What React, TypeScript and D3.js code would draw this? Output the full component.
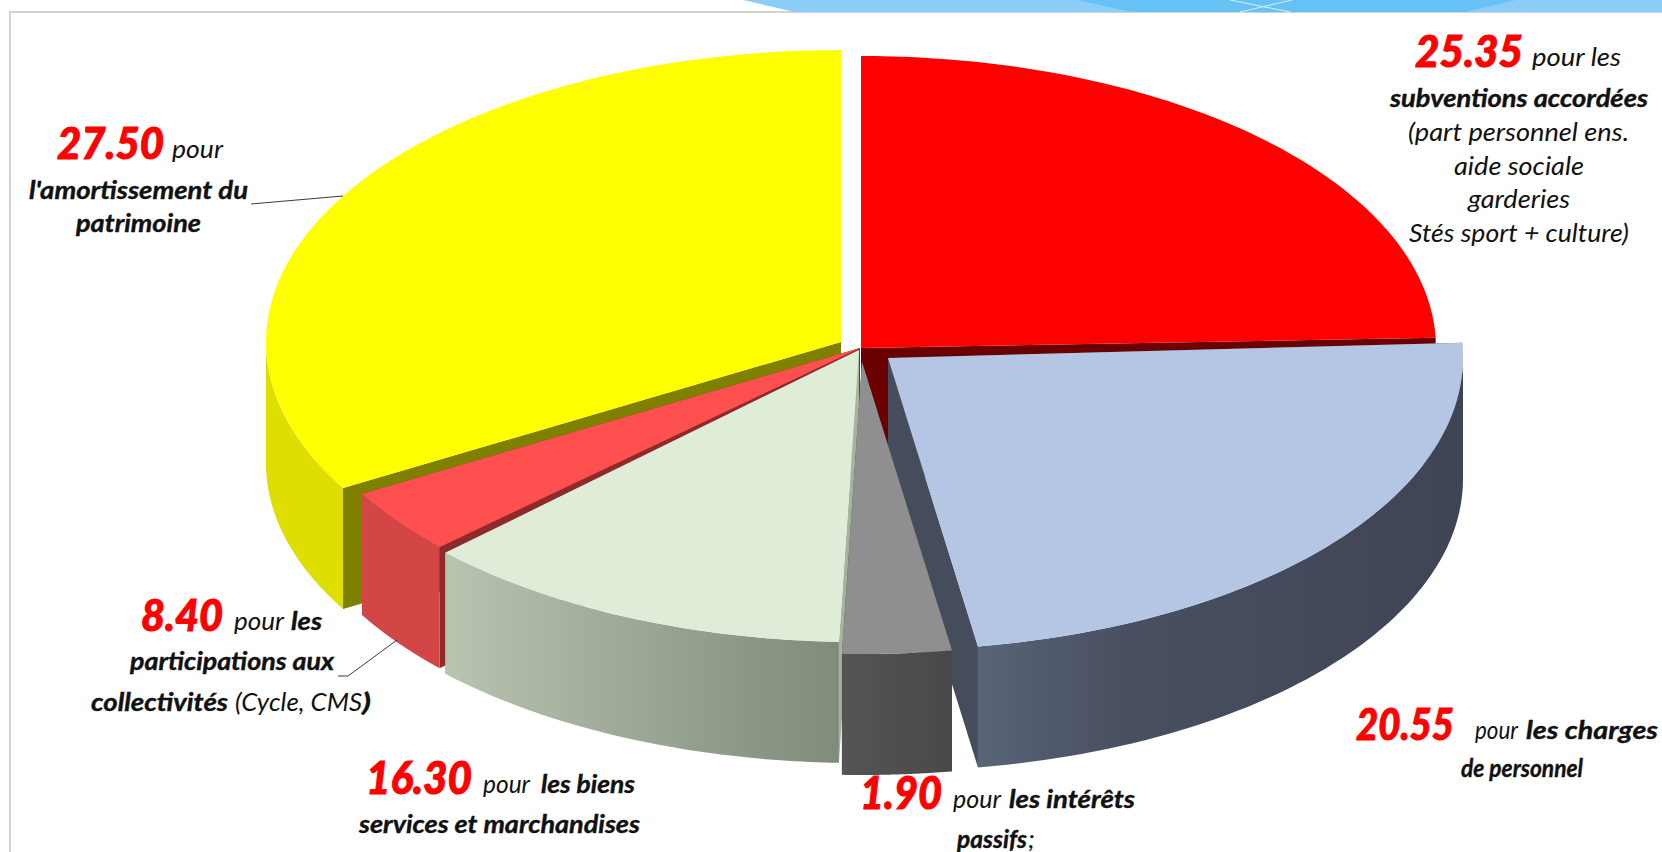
import React from "react";
import * as d3 from "d3";

// Amounts printed on the chart
const categories = [
  "subventions accordées",
  "charges de personnel",
  "intérêts passifs",
  "biens services et marchandises",
  "participations aux collectivités",
  "amortissement du patrimoine",
];
const amounts = [25.35, 20.55, 1.9, 16.3, 8.4, 27.5];
// Slice extents as they appear in the picture (degrees of the drawn disk)
const drawnShares = [88, 83, 11, 45, 13, 120];
// Small misfits between neighbouring slices in the picture (degrees)
const startNudge = [0, -1, 0, 0, 0, 0];
const endNudge = [0, 0, 0, -1, 0, 0];

const topColors = ["#ff0000", "#b4c6e4", "#8f8f8f", "#dfecd8", "#ff5050", "#ffff00"];
const radialWallColors = ["#6b0000", "#454c5c", "#505050", "#a5b39f", "#8f2a2a", "#7f7f00"];
const outerWallFills = ["#a00000", "url(#gBlue)", "url(#gGray)", "url(#gGreen)", "#d24646", "#dede00"];
const apexX = [861, 888, 862, 859, 860, 841];
const apexY = [348, 358, 362, 350, 348, 342];
const drawOrder = [0, 5, 1, 4, 3, 2];

const RX = 575;
const RY = 292;
const DEPTH = 121;

type Run = [string, number, number, number, number, "b" | "n" | "r"];
// text, left x, baseline y, width, font size, kind (r = red figure, b = bold italic, n = italic)
const runs: Run[] = [
  ["25.35", 1415, 67, 108, 44, "r"],
  ["pour les", 1532, 66, 89, 25, "n"],
  ["subventions accordées", 1390, 107, 258, 25, "b"],
  ["(part personnel ens.", 1408, 141, 221, 25, "n"],
  ["aide sociale", 1454, 175, 130, 25, "n"],
  ["garderies", 1468, 208, 102, 25, "n"],
  ["Stés sport + culture)", 1409, 242, 220, 25, "n"],
  ["27.50", 57, 159, 107, 44, "r"],
  ["pour", 172, 158, 51, 25, "n"],
  ["l'amortissement du", 29, 199, 219, 25, "b"],
  ["patrimoine", 76, 232, 125, 25, "b"],
  ["8.40", 141, 631, 82, 44, "r"],
  ["pour", 234, 630, 50, 25, "n"],
  ["les", 291, 630, 31, 25, "b"],
  ["participations aux", 130, 670, 204, 25, "b"],
  ["collectivités", 91, 711, 137, 25, "b"],
  ["(Cycle, CMS", 235, 711, 127, 25, "n"],
  [")", 362, 711, 9, 25, "b"],
  ["16.30", 366, 794, 106, 46, "r"],
  ["pour", 483, 793, 47, 25, "n"],
  ["les biens", 541, 793, 94, 25, "b"],
  ["services et marchandises", 359, 833, 281, 25, "b"],
  ["1.90", 860, 809, 82, 46, "r"],
  ["pour", 953, 808, 48, 25, "n"],
  ["les intérêts", 1009, 808, 126, 25, "b"],
  ["passifs", 957, 848, 70, 25, "b"],
  [";", 1028, 848, 7, 25, "n"],
  ["20.55", 1356, 740, 98, 44, "r"],
  ["pour", 1475, 739, 43, 25, "n"],
  ["les charges", 1526, 739, 132, 25, "b"],
  ["de personnel", 1461, 777, 122, 25, "b"],
];

const leaders: [number, number][][] = [
  [[343, 196], [251, 204]],
  [[397, 640], [348, 676], [338, 676]],
];

const line = d3.line<[number, number]>();
const rad = (deg: number) => (deg * Math.PI) / 180;

export default function App() {
  const arcs = d3
    .pie<number>()
    .sort(null)
    .value((d) => d)
    .startAngle(0)
    .endAngle(2 * Math.PI)(drawnShares);

  const pt = (i: number, a: number, dz = 0): [number, number] => [
    apexX[i] + RX * Math.sin(a),
    apexY[i] - RY * Math.cos(a) + dz,
  ];
  const sample = (i: number, a0: number, a1: number, dz = 0) =>
    d3.range(0, 61).map((k) => pt(i, a0 + ((a1 - a0) * k) / 60, dz));

  return (
    <svg
      width={1662}
      height={852}
      viewBox="0 0 1662 852"
      style={{ position: "absolute", left: 0, top: 0, background: "#fff", display: "block" }}
      fontFamily="Lato, Carlito, sans-serif"
    >
      <defs>
        <linearGradient id="gBlue" gradientUnits="userSpaceOnUse" x1={975} x2={1463} y1={0} y2={0}>
          <stop offset="0" stopColor="#5a6478" />
          <stop offset="0.3" stopColor="#485061" />
          <stop offset="1" stopColor="#3e4454" />
        </linearGradient>
        <linearGradient id="gGreen" gradientUnits="userSpaceOnUse" x1={447} x2={838} y1={0} y2={0}>
          <stop offset="0" stopColor="#b8c4b0" />
          <stop offset="1" stopColor="#7f8b7b" />
        </linearGradient>
        <linearGradient id="gGray" gradientUnits="userSpaceOnUse" x1={843} x2={951} y1={0} y2={0}>
          <stop offset="0" stopColor="#555555" />
          <stop offset="1" stopColor="#484848" />
        </linearGradient>
      </defs>

      {/* frame and top banner */}
      <rect x={0} y={0} width={1662} height={852} fill="#fff" />
      <path d="M10 852V12H1662" fill="none" stroke="#d2d2d2" strokeWidth={2} />
      <polygon points="743,0 795,12 1662,12 1662,0" fill="#8ccdf8" />
      <polygon points="1077,0 1132,12 1464,12 1516,0" fill="#66c1f5" />
      <path d="M1230 0L1290 12M1292 0L1240 12" stroke="#d8f0fd" strokeWidth={1} fill="none" />

      {drawOrder.map((i) => {
        const a = arcs[i];
        const a0 = a.startAngle + rad(startNudge[i]);
        const a1 = a.endAngle + rad(endNudge[i]);
        const apex: [number, number] = [apexX[i], apexY[i]];
        const apexLow: [number, number] = [apexX[i], apexY[i] + DEPTH];
        const fr0 = Math.max(a0, Math.PI / 2);
        const fr1 = Math.min(a1, (3 * Math.PI) / 2);
        const top = [apex, ...sample(i, a0, a1)];
        return (
          <g key={categories[i]} data-amount={amounts[i]}>
            {[a0, a1].map((ang, k) => (
              <path
                key={k}
                d={line([apex, pt(i, ang), pt(i, ang, DEPTH), apexLow]) + "Z"}
                fill={radialWallColors[i]}
              />
            ))}
            {fr1 > fr0 && (
              <path
                d={line([...sample(i, fr0, fr1), ...sample(i, fr0, fr1, DEPTH).reverse()]) + "Z"}
                fill={outerWallFills[i]}
              />
            )}
            <path d={line(top) + "Z"} fill={topColors[i]} />
          </g>
        );
      })}

      {leaders.map((l, i) => (
        <path key={i} d={line(l) ?? ""} fill="none" stroke="#3a3a3a" strokeWidth={1} />
      ))}

      {runs.map(([t, x, y, w, size, kind], i) => {
        const fill = kind === "r" ? "#ff0000" : "#111111";
        return (
          <text
            key={i}
            x={x}
            y={y}
            fontSize={size}
            fontStyle="italic"
            fontWeight={kind === "n" ? 400 : kind === "r" ? 900 : 700}
            fill={fill}
            stroke={kind === "n" ? "none" : fill}
            strokeWidth={kind === "r" ? 1 : 0.4}
            textLength={w}
            lengthAdjust="spacingAndGlyphs"
          >
            {t}
          </text>
        );
      })}
    </svg>
  );
}
